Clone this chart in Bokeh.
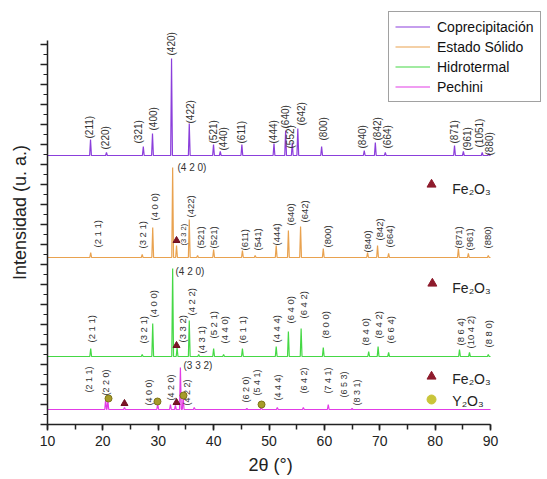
import math
from bokeh.plotting import figure
from bokeh.models import SingleIntervalTicker, Legend, LegendItem, Range1d, CustomJSTickFormatter, Title
from bokeh.core.properties import value
from bokeh.embed import file_html
from bokeh.resources import INLINE

FONT = "Liberation Sans"

# ---------------- data ----------------
series_names = ["Coprecipitación", "Estado Sólido", "Hidrotermal", "Pechini"]
series_colors = ["#8B3FDB", "#E9A24F", "#45D845", "#E23CE6"]
baselines = [269, 167, 68, 15]

copre_pos = [17.77, 20.65, 27.3, 28.96, 32.4, 35.6, 39.98, 41.2, 45.1, 50.9, 53.0, 54.2, 55.2, 59.5,
             67.2, 69.2, 71.0, 83.5, 85.1, 88.5, 89.7]
copre_int = [16, 3, 9, 22, 97, 32, 11, 4, 11, 12, 25, 13, 27, 9, 5, 13, 3, 10, 4, 3, 2]

estado_pos = [17.8, 27.1, 29.0, 32.6, 33.3, 35.6, 37.1, 40.0, 45.2, 47.5, 51.3, 53.5, 55.7, 59.8,
              67.8, 69.6, 71.6, 84.2, 86.0, 89.6]
estado_int = [5, 3, 30, 90, 12, 38, 2, 8, 7, 2, 12, 27, 31, 9, 5, 12, 4, 9, 4, 2]

hidro_pos = [17.8, 27.1, 29.0, 32.6, 33.4, 35.6, 37.3, 40.0, 41.8, 45.2, 51.3, 53.5, 55.8, 59.8,
             68.0, 69.7, 71.6, 84.4, 86.2, 89.6]
hidro_int = [8, 2, 33, 88, 9, 36, 2, 8, 2, 8, 10, 25, 28, 9, 5, 10, 4, 7, 4, 2]

pech_pos = [20.5, 20.9, 23.9, 29.9, 32.2, 33.1, 34.0, 34.5, 36.5, 46.0, 48.6, 51.5, 56.2, 60.7, 65.0]
pech_int = [10, 9, 2, 6, 5, 4, 42, 13, 2, 1, 4, 2, 2, 5, 1]

# peak labels (hkl), x in degrees, y = bottom of the label in a.u.
copre_hkl = ["(211)", "(220)", "(321)", "(400)", "(420)", "(422)", "(521)", "(440)", "(611)", "(444)",
             "(640)", "(552)", "(642)", "(800)", "(840)", "(842)", "(664)", "(871)", "(961)", "(1051)", "(880)"]
copre_lx = [17.58, 20.47, 26.43, 29.14, 32.39, 35.82, 39.98, 41.78, 45.03, 50.81,
            52.98, 53.88, 55.87, 59.84, 66.88, 69.59, 71.40, 83.50, 85.85, 88.01, 89.82]
copre_ly = [286, 275, 281, 294, 369, 301, 281, 274, 281, 281,
            296, 276, 299, 284, 276, 284, 276, 281, 274, 277, 269]

estado_hkl = ["(2 1 1)", "(3 2 1)", "(4 0 0)", "(422)", "(521)", "(521)", "(611)", "(541)", "(444)",
              "(640)", "(642)", "(800)", "(840)", "(842)", "(664)", "(871)", "(961)", "(880)"]
estado_lx = [19.03, 27.16, 29.32, 35.82, 37.63, 39.98, 45.58, 47.92, 51.35,
             53.88, 56.41, 60.56, 67.79, 69.95, 71.76, 84.22, 86.21, 89.46]
estado_ly = [177, 176, 204, 207, 176, 176, 174, 174, 179,
             199, 202, 177, 172, 184, 177, 176, 174, 176]
estado_small_hkl = ["(3 3 2)"]
estado_small_lx = [34.56]
estado_small_ly = [179]

hidro_hkl = ["(2 1 1)", "(3 2 1)", "(4 0 0)", "(3 3 2)", "(4 2 2)", "(4 3 1)", "(5 2 1)", "(4 4 0)",
             "(6 1 1)", "(4 4 4)", "(6 4 0)", "(6 4 2)", "(8 0 0)", "(8 4 0)", "(8 4 2)", "(6 6 4)",
             "(8 6 4)", "(10 4 2)", "(8 8 0)"]
hidro_lx = [17.95, 27.34, 29.14, 34.38, 36.0, 37.81, 39.98, 41.96, 45.21, 51.35, 53.88, 56.23,
            60.20, 67.43, 69.77, 71.94, 84.58, 86.39, 89.64]
hidro_ly = [82, 81, 107, 82, 109, 71, 86, 81, 81, 82, 101, 106, 86, 79, 86, 81, 79, 76, 77]

pech_hkl = ["(2 1 1)", "(2 2 0)", "(4 0 0)", "(4 2 0)", "(4 2 2)", "(6 2 0)", "(5 4 1)", "(4 4 4)",
            "(6 4 2)", "(7 4 1)", "(6 5 3)", "(8 3 1)"]
pech_lx = [17.58, 20.65, 28.24, 32.39, 35.28, 45.76, 47.92, 51.54, 56.23, 60.74, 63.63, 65.80]
pech_ly = [32, 29, 19, 24, 19, 22, 29, 24, 31, 31, 27, 19]

# strongest-peak labels written horizontally
top_hkl = ["(4 2 0)", "(4 2 0)", "(3 3 2)"]
top_lx = [33.48, 33.12, 34.56]
top_ly = [257, 153, 59]

# secondary phases marked on the patterns
fe2o3_x = [33.3, 33.3, 23.9, 33.3]
fe2o3_y = [184, 79, 21, 22]
y2o3_x = [21.02, 29.86, 34.56, 48.65]
y2o3_y = [26, 23, 29, 20]

# phase keys on the right
key_tri_x = [79.35, 79.5, 79.35]
key_tri_y = [240, 141, 48]
key_circ_x = [79.35]
key_circ_y = [25]
key_text = ["Fe₂O₃", "Fe₂O₃", "Fe₂O₃", "Y₂O₃"]
key_text_x = [83.1, 83.1, 83.1, 83.1]
key_text_y = [236, 137, 46, 24]

x_axis_bounds = (10, 90)
y_axis_bounds = (0, 384)


def pattern(pos, inten, base, w=0.16):
    xs, ys = [10.0], [base]
    for c, h in sorted(zip(pos, inten)):
        xs += [c - w, c, c + w]
        ys += [base, base + h, base]
    xs.append(90.0)
    ys.append(base)
    return xs, ys


# ---------------- figure ----------------
# the frame is wider/taller than the drawn axes so the legend and keys fit inside it
p = figure(width=547, height=479, output_backend="svg", toolbar_location=None,
           x_range=Range1d(10, 100.29), y_range=Range1d(0, 424),
           min_border_left=47, min_border_right=0, min_border_top=0, min_border_bottom=55)
p.outline_line_color = None
p.xgrid.visible = False
p.ygrid.visible = False
p.background_fill_color = "white"

all_pos = [copre_pos, estado_pos, hidro_pos, pech_pos]
all_int = [copre_int, estado_int, hidro_int, pech_int]
renderers = []
for pos, inten, base, col in zip(all_pos, all_int, baselines, series_colors):
    xs, ys = pattern(pos, inten, base)
    r = p.line(xs, ys, line_color=col, line_width=1.2)
    renderers.append(r)

label_color = "#333333"


def vlabels(txt, lx, ly, size):
    p.text(x=lx, y=ly, text=txt, angle=math.pi / 2, text_align="left", text_baseline="middle",
           text_font=value(FONT), text_font_size=size, text_color=label_color)


vlabels(copre_hkl, copre_lx, copre_ly, "10px")
vlabels(estado_hkl, estado_lx, estado_ly, "9.5px")
vlabels(estado_small_hkl, estado_small_lx, estado_small_ly, "7.5px")
vlabels(hidro_hkl, hidro_lx, hidro_ly, "9.5px")
vlabels(pech_hkl, pech_lx, pech_ly, "9px")

p.text(x=top_lx, y=top_ly, text=top_hkl, text_align="left", text_baseline="middle",
       text_font=value(FONT), text_font_size="10px", text_color=label_color)

p.scatter(fe2o3_x, fe2o3_y, marker="triangle", size=7, fill_color="#7E1426", line_color="#6E1020")
p.scatter(y2o3_x, y2o3_y, marker="circle", size=7, fill_color="#A69B2A", line_color="#7C7418")

p.scatter(key_tri_x, key_tri_y, marker="triangle", size=9, fill_color="#8E1B2C", line_color="#8E1B2C")
p.scatter(key_circ_x, key_circ_y, marker="circle", size=9, fill_color="#C9C53A", line_color="#C9C53A")
p.text(x=key_text_x, y=key_text_y, text=key_text, text_align="left", text_baseline="middle",
       text_font=value(FONT), text_font_size="14px", text_color="#222222")

# axes
xa = p.xaxis[0]
xa.bounds = x_axis_bounds
xa.ticker = SingleIntervalTicker(interval=10, num_minor_ticks=2)
xa.major_label_text_font = FONT
xa.major_label_text_font_size = "14px"
xa.major_label_text_color = "#222222"
xa.major_label_standoff = 5
xa.major_tick_out = 6
xa.major_tick_in = 0
xa.minor_tick_out = 5
xa.minor_tick_in = 0
xa.axis_line_width = 1.5
xa.axis_line_color = "#222222"
xa.major_tick_line_color = "#222222"
xa.minor_tick_line_color = "#222222"
xa.major_tick_line_width = 1.5
xa.minor_tick_line_width = 1.5

# x-axis title, centred under the drawn (bounded) axis
p.add_layout(Title(text="2θ (°)", align="left", offset=201, standoff=8, text_font=FONT,
                   text_font_size="18px", text_font_style="normal", text_color="#222222"), "below")

ya = p.yaxis[0]
ya.bounds = y_axis_bounds
ya.ticker = SingleIntervalTicker(interval=20, num_minor_ticks=2)
ya.formatter = CustomJSTickFormatter(code="return '';")
ya.axis_label = "Intensidad (u. a.)"
ya.axis_label_text_font = FONT
ya.axis_label_text_font_size = "18px"
ya.axis_label_text_font_style = "normal"
ya.axis_label_text_color = "#222222"
ya.axis_label_standoff = 11
ya.major_label_text_font_size = "10px"
ya.major_label_standoff = 0
ya.major_tick_out = 7
ya.major_tick_in = 0
ya.minor_tick_out = 4
ya.minor_tick_in = 0
ya.axis_line_width = 1.5
ya.axis_line_color = "#222222"
ya.major_tick_line_color = "#222222"
ya.minor_tick_line_color = "#222222"
ya.major_tick_line_width = 1.5
ya.minor_tick_line_width = 1.2

legend = Legend(items=[LegendItem(label=n, renderers=[r]) for n, r in zip(series_names, renderers)],
                location=(341, 322))
legend.label_text_font = FONT
legend.label_text_font_size = "14px"
legend.label_text_color = "#111111"
legend.glyph_width = 35
legend.glyph_height = 17
legend.label_height = 17
legend.spacing = 3
legend.padding = 6
legend.margin = 0
legend.label_standoff = 7
legend.border_line_color = "#444444"
legend.border_line_width = 1
legend.background_fill_color = "white"
legend.background_fill_alpha = 1.0
p.add_layout(legend)

open("out.html", "w").write(file_html(p, INLINE))
